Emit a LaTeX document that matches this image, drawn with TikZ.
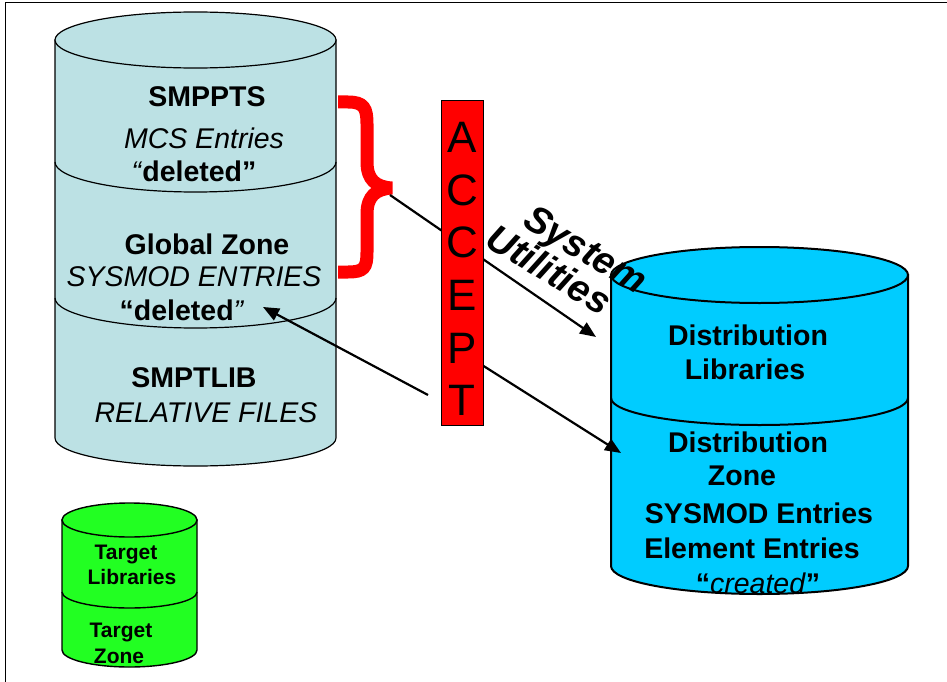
\documentclass[tikz,border=0pt]{standalone}
\usepackage{fontspec}
\setmainfont{Liberation Sans}
\usepackage{tikz}
\usetikzlibrary{arrows.meta}
\definecolor{smpbg}{HTML}{BCE1E4}
\definecolor{distbg}{HTML}{00CCFF}
\definecolor{tgtbg}{HTML}{22FF22}
\colorlet{acceptred}{red}
% body of a drum: left, right, top y, bottom y, y radius, fill, line width
\newcommand{\drum}[7]{%
  \pgfmathsetmacro\drumcx{(#1+#2)/2}
  \pgfmathsetmacro\drumrx{(#2-#1)/2}
  \filldraw[fill=#6, draw=black, line width=#7] (#1,#3) -- (#1,#4)
    arc[start angle=180, end angle=360, x radius=\drumrx pt, y radius=#5pt] -- (#2,#3) -- cycle;
  \filldraw[fill=#6, draw=black, line width=#7] (\drumcx,#3) ellipse[x radius=\drumrx pt, y radius=#5pt];
}
% front rim between two layers: left, right, y, y radius, line width
\newcommand{\drumcut}[5]{%
  \pgfmathsetmacro\drumrx{(#2-#1)/2}
  \draw[line width=#5] (#1,#3) arc[start angle=180, end angle=360, x radius=\drumrx pt, y radius=#4pt];
}
\tikzset{
  lbl/.style={inner sep=0pt, font=\fontsize{28.5}{34}\selectfont},
  bold lbl/.style={lbl, font=\fontsize{28.5}{34}\selectfont\bfseries},
  ital lbl/.style={lbl, font=\fontsize{28.5}{34}\selectfont\itshape},
  small lbl/.style={inner sep=0pt, font=\fontsize{21}{25}\selectfont\bfseries},
  flow/.style={line width=2.2pt, -{Triangle[length=16pt, width=13pt]}}
}

\begin{document}
\begin{tikzpicture}[x=1pt, y=-1pt]
  \useasboundingbox (0,0) rectangle (947,682);
  \draw[line width=1pt] (5,682) -- (5,3) -- (947,3);

  % SMP data sets
  \drum{55}{336}{40}{438}{28}{smpbg}{1.2pt}
  \drumcut{55}{336}{162}{30}{1.2pt}
  \drumcut{55}{336}{298}{30}{1.2pt}
  \node[bold lbl] (smppts) at (207,97) {SMPPTS};
  \node[ital lbl] (mcs) at (204,138) {MCS Entries};
  \node[lbl] (mcs del) at (194,171) {\textit{“}\textbf{deleted”}};
  \node[bold lbl] (global) at (207,244) {Global Zone};
  \node[ital lbl] (sysmod) at (194,277) {SYSMOD ENTRIES};
  \node[lbl] (global del) at (182,310) {\textbf{“deleted}\textit{”}};
  \node[bold lbl] (smptlib) at (194,378) {SMPTLIB};
  \node[ital lbl] (relfiles) at (206,413) {RELATIVE FILES};

  % target
  \drum{62}{197}{520}{650}{17}{tgtbg}{1.4pt}
  \drumcut{62}{197}{592}{16}{1.4pt}
  \node[small lbl] (tlib a) at (126,554) {Target};
  \node[small lbl] (tlib b) at (132,577) {Libraries};
  \node[small lbl] (tzone a) at (121,632) {Target};
  \node[small lbl] (tzone b) at (119,656) {Zone};

  % distribution
  \drum{611}{908}{275}{566}{28}{distbg}{2pt}
  \drumcut{611}{908}{398}{27}{2pt}
  \node[bold lbl] (dlib a) at (748,335) {Distribution};
  \node[bold lbl] (dlib b) at (745,369) {Libraries};
  \node[bold lbl] (dzone a) at (748,442) {Distribution};
  \node[bold lbl] (dzone b) at (742,476) {Zone};
  \node[bold lbl] (dzone c) at (759,513) {SYSMOD Entries};
  \node[bold lbl] (dzone d) at (752,548) {Element Entries};
  \node[lbl] (dzone e) at (758,583) {\textbf{“}\textit{created}\textbf{”}};

  % brace
  \draw[acceptred, line width=13pt]
    (338,102) -- (348,102) .. controls (364,102) and (367,108) .. (367,124)
    -- (367,162) .. controls (367,180) and (376,187) .. (392,188)
    .. controls (376,189) and (367,196) .. (367,214)
    -- (367,252) .. controls (367,268) and (364,272) .. (348,272) -- (338,272);

  \coordinate (brace tip) at (390,195);
  \coordinate (dlib in) at (596,337);
  \coordinate (back start) at (428,395);
  \coordinate (global in) at (263,307);
  \coordinate (accept out) at (482,365);
  \coordinate (dzone in) at (621,453);

  \draw[flow] (brace tip) -- (dlib in);
  \draw[flow] (back start) -- (global in);
  \draw[flow] (accept out) -- (dzone in);

  \node[draw=black, fill=acceptred, line width=0.8pt, minimum width=42pt, minimum height=325pt,
        inner sep=0pt] (accept) at (462,262.5) {};
  \node[inner sep=0pt, align=center, font=\fontsize{44}{52.6}\selectfont] (accept word) at (462,269)
        {A\\C\\C\\E\\P\\T};

  \node[font=\fontsize{38}{33}\selectfont\bfseries\itshape, rotate=-31, inner sep=0pt, align=left]
        (utilities) at (567,259) {\hspace*{22pt}System\\Utilities};
\end{tikzpicture}
\end{document}
